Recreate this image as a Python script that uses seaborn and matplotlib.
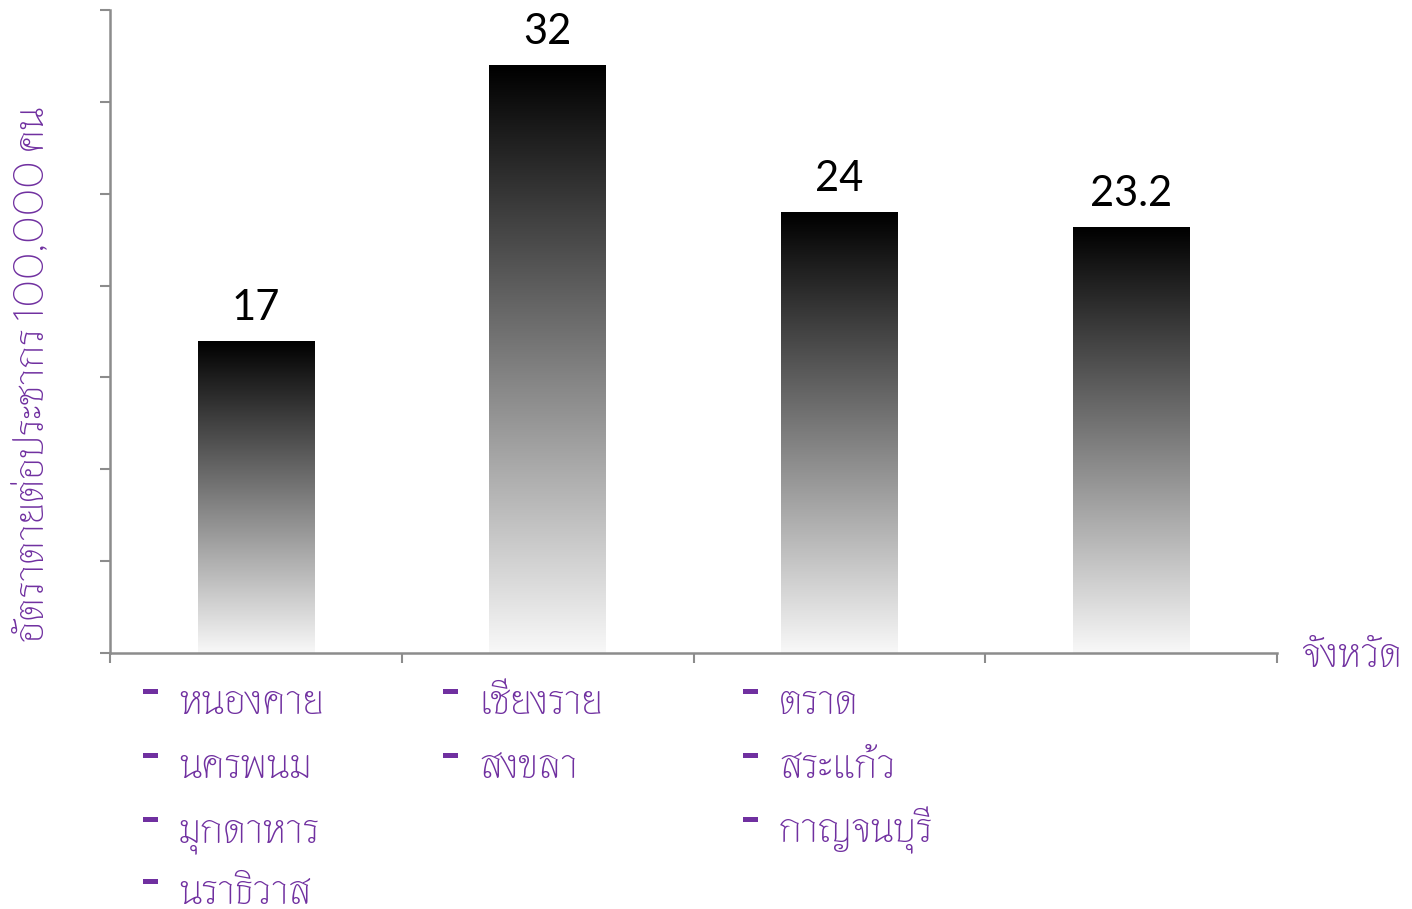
import matplotlib
matplotlib.use("Agg")
import matplotlib.pyplot as plt
import numpy as np
import pandas as pd
import seaborn as sns
from matplotlib.patches import Rectangle
from matplotlib.colors import LinearSegmentedColormap

# ---- data ----
groups = ["กลุ่ม 1", "กลุ่ม 2", "กลุ่ม 3", "กลุ่ม 4"]
rates = [17, 32, 24, 23.2]
value_labels = ["17", "32", "24", "23.2"]
provinces_col1 = ["หนองคาย", "นครพนม", "มุกดาหาร", "นราธิวาส"]
provinces_col2 = ["เชียงราย", "สงขลา"]
provinces_col3 = ["ตราด", "สระแก้ว", "กาญจนบุรี"]
y_label = "อัตราตายต่อประชากร 100,000 คน"
x_label = "จังหวัด"
y_ticks = [0, 5, 10, 15, 20, 25, 30, 35]

sns.set_theme(style="white")
plt.rcParams['font.family'] = ['Lato', 'Thasadith', 'DejaVu Sans']
THAI = ['Thasadith', 'Lato', 'DejaVu Sans']

PURPLE = "#7030A0"
GRAY = "#8C8C8C"
W, H = 1412, 909

fig = plt.figure(figsize=(W/100, H/100), dpi=100)
ax = fig.add_axes([110/W, 1 - 653/H, (1277-110)/W, (653-10)/H])

df = pd.DataFrame({"group": groups, "rate": rates})
sns.barplot(data=df, x="group", y="rate", ax=ax, width=0.4, color="black",
            linewidth=0, saturation=1)

cmap = LinearSegmentedColormap.from_list("g", ["#000000", "#f8f8f8"])
grad = np.linspace(0, 1, 256).reshape(-1, 1)
for p in list(ax.patches):
    x0, y0 = p.get_x(), p.get_y()
    w, h = p.get_width(), p.get_height()
    p.set_facecolor("none")
    im = ax.imshow(grad, extent=[x0, x0 + w, y0, y0 + h], origin="upper",
                   aspect="auto", cmap=cmap, vmin=0, vmax=1, zorder=2)
    im.set_clip_path(p)

ax.set_xlim(-0.5, 3.5)
ax.set_ylim(0, 35)
ax.set_yticks(y_ticks)
ax.set_yticklabels([])
ax.set_xticks([-0.5, 0.5, 1.5, 2.5, 3.5])
ax.set_xticklabels([])
ax.tick_params(axis="both", direction="out", length=7, width=1.5, color=GRAY,
               left=True, bottom=True)
for s in ["top", "right"]:
    ax.spines[s].set_visible(False)
for s in ["left", "bottom"]:
    ax.spines[s].set_color(GRAY)
    ax.spines[s].set_linewidth(1.8)
ax.set_xlabel("")
ax.set_ylabel("")

for i, (v, lab) in enumerate(zip(rates, value_labels)):
    ax.annotate(lab, (i, v), xytext=(0, 10), textcoords="offset points",
                ha="center", va="bottom", fontsize=30, color="black")

# y label
fig.text(31/W, 1 - 374/H, y_label, rotation=90, ha="center", va="center",
         fontsize=30, color=PURPLE, family=THAI)
# x label
fig.text(1302/W, 1 - 667/H, x_label, ha="left", va="baseline",
         fontsize=30, color=PURPLE, family=THAI)

# province lists
cols = [provinces_col1, provinces_col2, provinces_col3]
col_x = [143, 443, 743]
row_base = [714, 778, 842, 904]
for cx, names in zip(col_x, cols):
    for r, name in enumerate(names):
        yb = row_base[r]
        fig.add_artist(Rectangle((cx/W, 1 - (yb - 20)/H), 15/W, 5/H,
                                 transform=fig.transFigure, color=PURPLE,
                                 linewidth=0))
        fig.text((cx + 36)/W, 1 - yb/H, name, ha="left", va="baseline",
                 fontsize=30, color=PURPLE, family=THAI)

fig.savefig("out.png", dpi=100)
